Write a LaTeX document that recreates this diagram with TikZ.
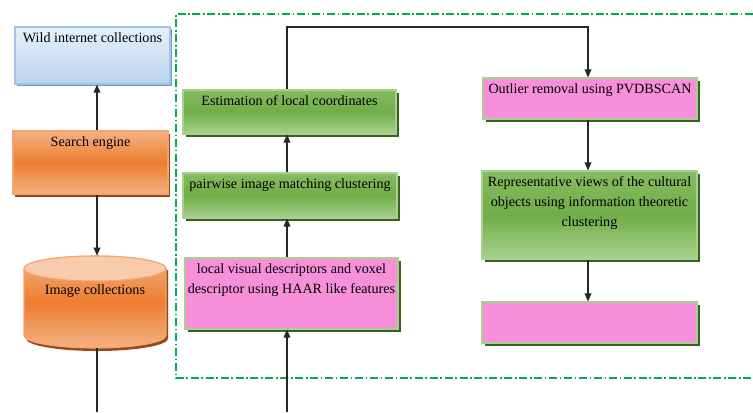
\documentclass[tikz,border=0pt]{standalone}
\usepackage{fontspec}
\setmainfont{Liberation Serif}
\usetikzlibrary{arrows.meta,shadows}
\definecolor{bluetop}{HTML}{E6F0FA}
\definecolor{bluebot}{HTML}{B9D4EC}
\definecolor{blueedge}{HTML}{9DC3E6}
\definecolor{blueshadow}{HTML}{7F98B5}
\definecolor{orlight}{HTML}{F4B183}
\definecolor{ormid}{HTML}{ED7D31}
\definecolor{oredge}{HTML}{F4A46E}
\definecolor{orshadow}{HTML}{9A4716}
\definecolor{ortop}{HTML}{F8CBAD}
\definecolor{grtop}{HTML}{86BC62}
\definecolor{grmid}{HTML}{70AD47}
\definecolor{grbot}{HTML}{A9D18E}
\definecolor{gredge}{HTML}{A9D18E}
\definecolor{grshadow}{HTML}{3A5F24}
\definecolor{pinkfill}{HTML}{F78FDB}
\definecolor{dashgreen}{HTML}{00B050}
\tikzset{
  base/.style={rectangle, inner sep=0pt, line width=0.8pt},
  bluebox/.style={base, draw=blueedge, top color=bluetop, bottom color=bluebot,
    general shadow={shadow xshift=1.6pt, shadow yshift=-1.6pt, fill=blueshadow}},
  orbox/.style={base, draw=oredge, top color=orlight, bottom color=orlight, middle color=ormid,
    general shadow={shadow xshift=1.8pt, shadow yshift=-2pt, fill=orshadow}},
  grbox/.style={base, draw=gredge, top color=grtop, bottom color=grbot, middle color=grmid,
    general shadow={shadow xshift=2pt, shadow yshift=-2.2pt, fill=grshadow}},
  pkbox/.style={base, draw=gredge, fill=pinkfill,
    general shadow={shadow xshift=2pt, shadow yshift=-2.2pt, fill=grshadow}},
  txt/.style={inner sep=0pt, anchor=north, align=center, font=\fontsize{10.6}{15}\selectfont},
  arr/.style={line width=0.9pt, black!85, -{Triangle[length=6pt,width=5pt]}},
  ln/.style={line width=0.9pt, black!85},
  frame/.style={dashgreen, line width=0.8pt, dash pattern=on 6pt off 2pt on 1.2pt off 2pt}
}
\begin{document}
\begin{tikzpicture}[x=0.75pt,y=0.75pt]
\useasboundingbox (0,0) rectangle (753,-412);
% dashed frame
\draw[frame] (753,-14) -- (176,-14) -- (176,-378) -- (753,-378);

% left column
\node[bluebox, minimum width=155*0.75pt, minimum height=57*0.75pt] (wild) at (92.5,-55.5) {};
\node[txt] (wildt) at ([yshift=-4.6pt]wild.north) {Wild internet collections};
\node[orbox, minimum width=155*0.75pt, minimum height=63*0.75pt] (search) at (90.5,-162.5) {};
\node[txt] (searcht) at ([yshift=-4.6pt]search.north) {Search engine};

% cylinder
\node[inner sep=0pt, minimum width=142*0.75pt, minimum height=92*0.75pt] (cyl) at (95,-302) {};
\fill[orshadow] (26,-270) -- (26,-338.5) arc[start angle=180, end angle=360, x radius=71, y radius=12.5] -- (168,-270) -- cycle;
\shade[top color=orlight, bottom color=orlight, middle color=ormid, draw=oredge, line width=0.8pt]
  (24,-268.5) -- (24,-335.5) arc[start angle=180, end angle=360, x radius=71, y radius=12.5]
  -- (166,-268.5) arc[start angle=0, end angle=180, x radius=71, y radius=12.5] -- cycle;
\draw[oredge, fill=ortop, line width=0.8pt] (95,-268.5) ellipse[x radius=71, y radius=12.5];
\node[txt] (cylt) at (95,-284) {Image collections};

\coordinate (lx) at (97,0);
\coordinate (lbot) at (97,-412);
\draw[arr] (lx |- search.north) -- (lx |- wild.south);
\draw[arr] (lx |- search.south) -- (lx |- cyl.north);
\draw[ln] (lx |- cyl.south) -- (lbot);

% middle column
\node[grbox, minimum width=213*0.75pt, minimum height=44*0.75pt] (est) at (289.5,-112) {};
\node[txt] (estt) at ([yshift=-4.6pt]est.north) {Estimation of local coordinates};
\node[grbox, minimum width=214*0.75pt, minimum height=45*0.75pt] (pair) at (290,-195.5) {};
\node[txt] (pairt) at ([yshift=-4.6pt]pair.north) {pairwise image matching clustering};
\node[pkbox, minimum width=213*0.75pt, minimum height=71*0.75pt] (loc) at (291.5,-293.5) {};
\node[txt] (loct) at ([yshift=-4.6pt]loc.north) {local visual descriptors and voxel\\descriptor using HAAR like features};

\coordinate (mx) at (287,0);
\coordinate (mbot) at (287,-412);
\coordinate (turn) at (588,-27);
\draw[arr] (mbot) -- (mx |- loc.south);
\draw[arr] (mx |- loc.north) -- (mx |- pair.south);
\draw[arr] (mx |- pair.north) -- (mx |- est.south);

% right column
\node[pkbox, minimum width=214*0.75pt, minimum height=41*0.75pt] (out) at (590,-98.5) {};
\node[txt] (outt) at ([yshift=-4.6pt]out.north) {Outlier removal using PVDBSCAN};
\node[grbox, minimum width=215*0.75pt, minimum height=88*0.75pt] (rep) at (589.5,-215) {};
\node[txt] (rept) at ([yshift=-4.6pt]rep.north) {Representative views of the cultural\\objects using information theoretic\\clustering};
\node[pkbox, minimum width=215*0.75pt, minimum height=41*0.75pt] (emp) at (589.5,-322.5) {};

\draw[arr] (mx |- est.north) |- (turn) -- (turn |- out.north);
\draw[arr] (turn |- out.south) -- (turn |- rep.north);
\draw[arr] (turn |- rep.south) -- (turn |- emp.north);
\end{tikzpicture}
\end{document}
